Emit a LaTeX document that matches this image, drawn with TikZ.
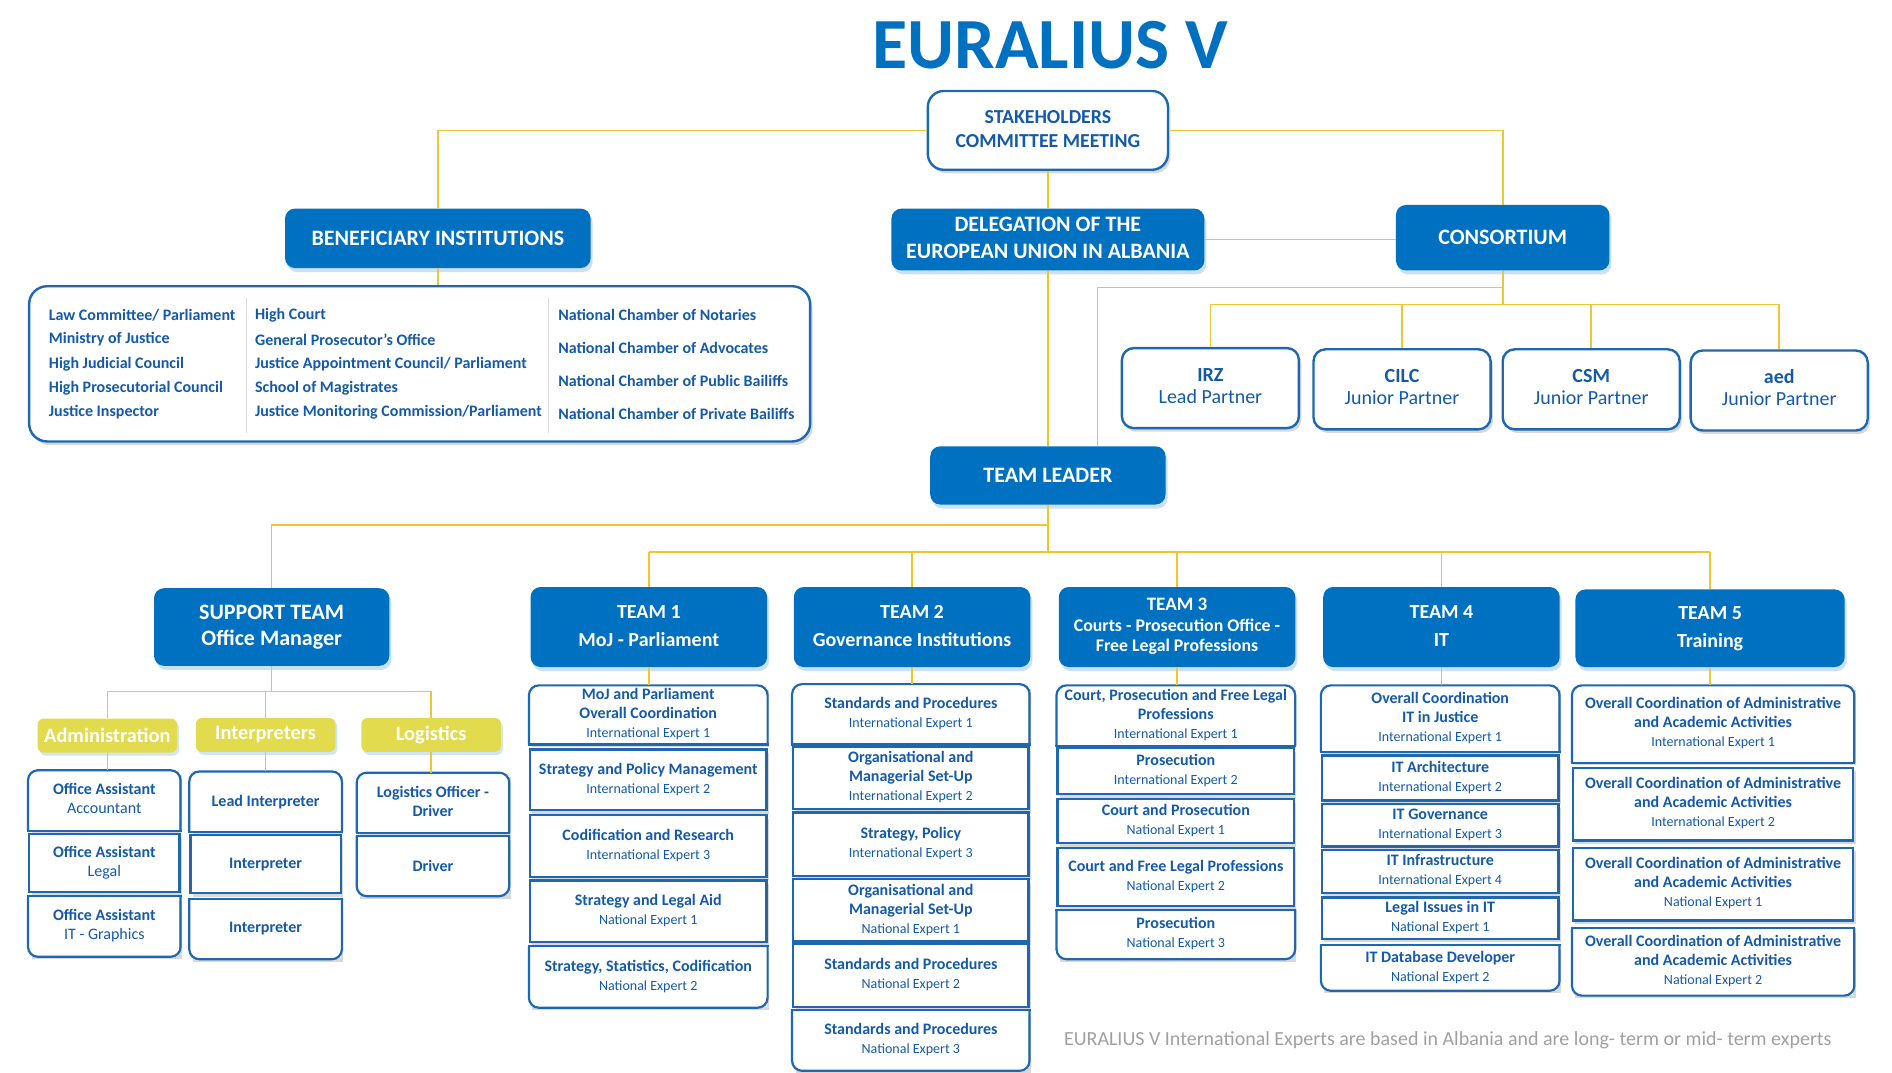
\documentclass[tikz,border=0pt]{standalone}
\usepackage{fontspec}
\setmainfont{Carlito}
\usetikzlibrary{shadows}
\definecolor{eublue}{RGB}{0,112,192}
\definecolor{lineblue}{RGB}{30,104,178}
\definecolor{txtblue}{RGB}{20,90,168}
\definecolor{linkgold}{RGB}{240,196,50}
\definecolor{lblyellow}{RGB}{227,219,78}
\definecolor{notegray}{RGB}{160,160,160}
\newcommand\px{0.6064pt}
\newcommand\sublbl{\mdseries\fontsize{7}{9.5}\selectfont}
\newcommand\smallhd{\fontsize{8.9}{10}\selectfont}
% lines of a box, centred
\newcommand\stack[1]{\begin{tabular}{@{}c@{}}#1\end{tabular}}
% top / bottom cell of a column: only the outer corners are round
\newcommand\celltop[1]{%
  \draw[cellline, rounded corners=5pt] (#1.south west) -- (#1.north west) -- (#1.north east) -- (#1.south east);
  \draw[cellline, line cap=rect] (#1.south west) -- (#1.south east);}
\newcommand\cellbot[1]{%
  \draw[cellline, rounded corners=5pt] (#1.north west) -- (#1.south west) -- (#1.south east) -- (#1.north east);
  \draw[cellline, line cap=rect] (#1.north west) -- (#1.north east);}
\begin{document}
\begin{tikzpicture}[
    x=\px, y=-\px,
    wd/.style = {minimum width=#1*\px},
    ht/.style = {minimum height=#1*\px},
    hdbox/.style = {fill=eublue, rounded corners=5pt, inner sep=0pt, text=white,
                    font=\bfseries\fontsize{11}{13.3}\selectfont,
                    drop shadow={shadow xshift=1pt, shadow yshift=-2pt, fill=eublue!35, opacity=0.6}},
    team/.style = {hdbox, wd=195, ht=66, font=\bfseries\fontsize{10}{14}\selectfont},
    wbox/.style = {draw=lineblue, line width=1.2pt, fill=white, rounded corners=6pt, inner sep=0pt,
                   text=txtblue,
                   drop shadow={shadow xshift=1.2pt, shadow yshift=-1.8pt, fill=black!30, opacity=0.5}},
    partner/.style = {wbox, wd=146, ht=66, font=\bfseries\fontsize{10}{11}\selectfont},
    cell/.style = {wbox, sharp corners, line width=1.1pt, font=\bfseries\fontsize{8}{9.5}\selectfont},
    endcell/.style = {cell, draw=none},
    lbl/.style = {fill=lblyellow, rounded corners=3pt, inner sep=0pt, text=white, wd=115, ht=28,
                  font=\bfseries\fontsize{10.2}{11}\selectfont,
                  drop shadow={shadow xshift=1pt, shadow yshift=-1.5pt, fill=eublue!30, opacity=0.6}},
    inst/.style = {anchor=west, inner sep=0pt, text=txtblue, font=\bfseries\fontsize{8}{9}\selectfont},
    link/.style = {draw=linkgold, line width=0.8pt},
    cellline/.style = {draw=lineblue, line width=1.1pt},
  ]
  \useasboundingbox (0,0) rectangle (1560,884);

  % title
  \node[text=eublue, font=\bfseries\fontsize{36}{40}\selectfont] (ttl) at (866,37) {EURALIUS V};

  % upper part
  \node[wbox, rounded corners=8pt, wd=198, ht=65, font=\bfseries\fontsize{9.9}{12}\selectfont] (stake) at (864,107.5)
    {\stack{STAKEHOLDERS\\COMMITTEE MEETING}};
  \node[hdbox, wd=252, ht=49] (benef) at (361,196.5) {BENEFICIARY INSTITUTIONS};
  \node[hdbox, wd=258, ht=51] (deleg) at (864,197.5) {\stack{DELEGATION OF THE\\EUROPEAN UNION IN ALBANIA}};
  \node[hdbox, wd=176, ht=54] (consort) at (1239,196) {CONSORTIUM};
  \node[wbox, rounded corners=9pt, wd=644, ht=128] (insts) at (346,300) {};

  \foreach \t [count=\i] in {Law Committee/ Parliament, Ministry of Justice, High Judicial Council,
      High Prosecutorial Council, Justice Inspector}
    \node[inst] (ia\i) at (40,240+20*\i) {\t};
  \foreach \t [count=\i] in {High Court, General Prosecutor’s Office, Justice Appointment Council/ Parliament,
      School of Magistrates, Justice Monitoring Commission/Parliament}
    \node[inst] (ib\i) at (210,240+20*\i) {\t};
  \foreach \t [count=\i] in {National Chamber of Notaries, National Chamber of Advocates,
      National Chamber of Public Bailiffs, National Chamber of Private Bailiffs}
    \node[inst] (ic\i) at (460,233+27*\i) {\t};
  \draw[black!15] (203,246) -- (203,357) (452,246) -- (452,357);

  % consortium partners
  \node[partner] (irz) at (998,320) {\stack{IRZ\\\mdseries Lead Partner}};
  \node[partner] (cilc) at (1156,321) {\stack{CILC\\\mdseries Junior Partner}};
  \node[partner] (csm) at (1312,321) {\stack{CSM\\\mdseries Junior Partner}};
  \node[partner] (aed) at (1467,322) {\stack{aed\\\mdseries Junior Partner}};

  \node[hdbox, wd=194, ht=48] (leader) at (864,392) {TEAM LEADER};

  % teams
  \node[hdbox, wd=194, ht=64] (sup) at (224,517) {\stack{SUPPORT TEAM\\Office Manager}};
  \node[team] (team1) at (535,517) {\stack{TEAM 1\\MoJ - Parliament}};
  \node[team] (team2) at (752,517) {\stack{TEAM 2\\Governance Institutions}};
  \node[team, font=\bfseries\fontsize{9.5}{10.3}\selectfont] (team3) at (970.5,517)
    {\stack{TEAM 3\\\smallhd Courts - Prosecution Office -\\\smallhd Free Legal Professions}};
  \node[team] (team4) at (1188.5,517) {\stack{TEAM 4\\IT}};
  \node[team, wd=222, ht=64] (team5) at (1410,518) {\stack{TEAM 5\\Training}};

  % support team
  \node[lbl] (adm) at (88.5,606.5) {Administration};
  \node[lbl] (intp) at (219,606) {Interpreters};
  \node[lbl] (logi) at (355.5,606) {Logistics};
  \begin{scope}[every node/.append style={wd=124, ht=48}]
    \node[endcell] (s1-1) at (86,660) {\stack{Office Assistant\\\mdseries Accountant}};
    \node[cell] (s1-2) at (86,711.5) {\stack{Office Assistant\\\mdseries Legal}};
    \node[endcell] (s1-3) at (86,764) {\stack{Office Assistant\\\mdseries IT - Graphics}};
    \node[endcell] (s2-1) at (219,661) {Lead Interpreter};
    \node[cell] (s2-2) at (219,712.5) {Interpreter};
    \node[endcell] (s2-3) at (219,766) {Interpreter};
    \node[endcell] (s3-1) at (357,662) {\stack{Logistics Officer -\\Driver}};
    \node[endcell] (s3-2) at (357,714) {Driver};
  \end{scope}

  % team 1
  \begin{scope}[every node/.append style={wd=195}]
    \node[endcell, ht=47] (c1-1) at (534.5,589.5) {\stack{MoJ and Parliament\\Overall Coordination\\\sublbl International Expert 1}};
    \node[cell, ht=50] (c1-2) at (534.5,643) {\stack{Strategy and Policy Management\\\sublbl International Expert 2}};
    \node[cell, ht=51] (c1-3) at (534.5,697.5) {\stack{Codification and Research\\\sublbl International Expert 3}};
    \node[cell, ht=51] (c1-4) at (534.5,751.5) {\stack{Strategy and Legal Aid\\\sublbl National Expert 1}};
    \node[endcell, ht=49] (c1-5) at (534.5,805.5) {\stack{Strategy, Statistics, Codification\\\sublbl National Expert 2}};
  \end{scope}
  % team 2
  \begin{scope}[every node/.append style={wd=194}]
    \node[endcell, ht=48] (c2-1) at (751,589) {\stack{Standards and Procedures\\\sublbl International Expert 1}};
    \node[cell, ht=51] (c2-2) at (751,641.5) {\stack{Organisational and\\Managerial Set-Up\\\sublbl International Expert 2}};
    \node[cell, ht=52] (c2-3) at (751,696) {\stack{Strategy, Policy\\\sublbl International Expert 3}};
    \node[cell, ht=51] (c2-4) at (751,750.5) {\stack{Organisational and\\Managerial Set-Up\\\sublbl National Expert 1}};
    \node[cell, ht=52] (c2-5) at (751,804) {\stack{Standards and Procedures\\\sublbl National Expert 2}};
    \node[endcell, ht=48] (c2-6) at (751,858) {\stack{Standards and Procedures\\\sublbl National Expert 3}};
  \end{scope}
  % team 3
  \begin{scope}[every node/.append style={wd=195}]
    \node[endcell, ht=48] (c3-1) at (969.5,590) {\stack{Court, Prosecution and Free Legal\\Professions\\\sublbl International Expert 1}};
    \node[cell, ht=38] (c3-2) at (969.5,636) {\stack{Prosecution\\\sublbl International Expert 2}};
    \node[cell, ht=36] (c3-3) at (969.5,677) {\stack{Court and Prosecution\\\sublbl National Expert 1}};
    \node[cell, ht=48] (c3-4) at (969.5,723) {\stack{Court and Free Legal Professions\\\sublbl National Expert 2}};
    \node[endcell, ht=39] (c3-5) at (969.5,770.5) {\stack{Prosecution\\\sublbl National Expert 3}};
  \end{scope}
  % team 4
  \begin{scope}[every node/.append style={wd=195}]
    \node[endcell, ht=53] (c4-1) at (1187.5,592.5) {\stack{Overall Coordination\\IT in Justice\\\sublbl International Expert 1}};
    \node[cell, ht=37] (c4-2) at (1187.5,641.5) {\stack{IT Architecture\\\sublbl International Expert 2}};
    \node[cell, ht=35] (c4-3) at (1187.5,680.5) {\stack{IT Governance\\\sublbl International Expert 3}};
    \node[cell, ht=35] (c4-4) at (1187.5,718.5) {\stack{IT Infrastructure\\\sublbl International Expert 4}};
    \node[cell, ht=34] (c4-5) at (1187.5,757) {\stack{Legal Issues in IT\\\sublbl National Expert 1}};
    \node[endcell, ht=36] (c4-6) at (1187.5,798) {\stack{IT Database Developer\\\sublbl National Expert 2}};
  \end{scope}
  % team 5
  \begin{scope}[every node/.append style={wd=231}]
    \node[endcell, ht=62] (c5-1) at (1412.5,597) {\stack{Overall Coordination of Administrative\\and Academic Activities\\\sublbl International Expert 1}};
    \node[cell, ht=60] (c5-2) at (1412.5,663) {\stack{Overall Coordination of Administrative\\and Academic Activities\\\sublbl International Expert 2}};
    \node[cell, ht=60] (c5-3) at (1412.5,729) {\stack{Overall Coordination of Administrative\\and Academic Activities\\\sublbl National Expert 1}};
    \node[endcell, ht=54] (c5-4) at (1412.5,793) {\stack{Overall Coordination of Administrative\\and Academic Activities\\\sublbl National Expert 2}};
  \end{scope}

  \foreach \c in {s1-1,s2-1,s3-1,c1-1,c2-1,c3-1,c4-1,c5-1} {\celltop{\c}}
  \foreach \c in {s1-3,s2-3,s3-2,c1-5,c2-6,c3-5,c4-6,c5-4} {\cellbot{\c}}

  \node[anchor=west, inner sep=0pt, text=notegray, font=\fontsize{10}{12}\selectfont] (note) at (877,858)
    {EURALIUS V International Experts are based in Albania and are long- term or mid- term experts};

  % connectors
  \coordinate (cjoin) at (1239,237);
  \coordinate (pbar) at (1239,251);
  \coordinate (lin) at (905,368);
  \coordinate (lbar) at (864,433);
  \coordinate (tbar) at (864,455);
  \coordinate (sbar) at (224,570);
  \draw[link] (stake.west) -| (benef.north);
  \draw[link] (stake.east) -| (consort.north);
  \draw[link] (stake.south) -- (deleg.north);
  \draw[link] (deleg.east) -- (deleg.east -| consort.west);
  \draw[link] (benef.south) -- (benef.south |- insts.north);
  \draw[link] (deleg.south) -- (leader.north);
  \draw[link] (consort.south) -- (pbar);
  \draw[link] (cjoin) -| (lin);
  \draw[link] (pbar -| irz.north) -- (pbar -| aed.north);
  \foreach \p in {irz,cilc,csm,aed}
    \draw[link] (pbar -| \p.north) -- (\p.north);
  \draw[link] (leader.south) -- (tbar);
  \draw[link] (lbar) -| (sup.north);
  \draw[link] (tbar -| team1.north) -- (tbar -| team5.north);
  \foreach \i in {1,...,5} {
    \draw[link] (tbar -| team\i.north) -- (team\i.north);
    \draw[link] (team\i.south) -- (team\i.south |- c\i-1.north);
  }
  \draw[link] (sup.south) -- (sbar);
  \draw[link] (sbar -| adm.north) -- (sbar -| logi.north);
  \foreach \l/\c in {adm/s1-1, intp/s2-1, logi/s3-1} {
    \draw[link] (sbar -| \l.north) -- (\l.north);
    \draw[link] (\l.south) -- (\l.south |- \c.north);
  }
\end{tikzpicture}
\end{document}
